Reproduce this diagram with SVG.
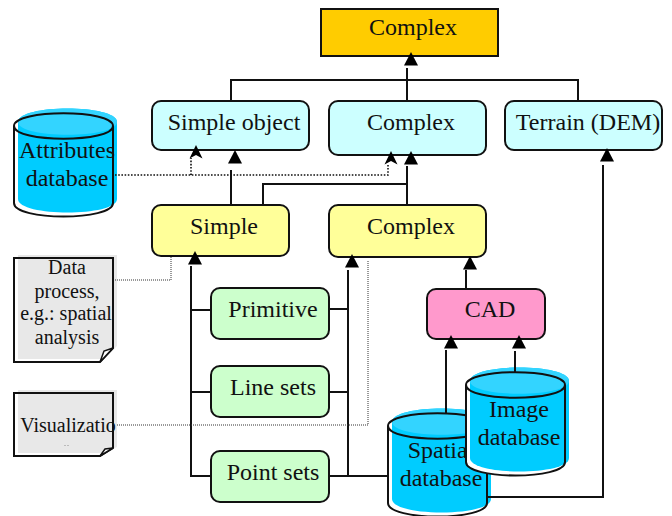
<svg xmlns="http://www.w3.org/2000/svg" width="672" height="516" viewBox="0 0 672 516">
<style>
text{font-family:"Liberation Serif","Times New Roman",serif;font-size:24px;fill:#111;text-anchor:middle}
.small{font-size:20px}
.box{stroke:#111;stroke-width:2}
.c{fill:none;stroke:#111;stroke-width:2}
.d{fill:none;stroke:#111;stroke-width:1.6;stroke-dasharray:1.6 1.6}
.t{fill:none;stroke:#333;stroke-width:1;stroke-dasharray:1 1}
.o{fill:none;stroke:#111;stroke-width:2}
.body{fill:#00ccff}
.top{fill:#33d4ff}
.sh{fill:#e8e8e8}
</style>
<defs>
<polygon id="tri" points="0,-7 7,6.5 -7,6.5" fill="#000"/>
<path id="open" d="M0,-7 L6.5,6.5 L0,3 L-6.5,6.5 Z" fill="#000"/>
<g id="cyl">
<path d="M0,13 C0,-4 99,-4 99,13 V90 C99,108 0,108 0,90 Z" fill="#fff"/>
<path class="body" d="M4,9 C4,-9 103,-9 103,9 V86 C103,104 4,104 4,86 Z"/>
<path class="top" d="M4,9 C4,-9 103,-9 103,9 C103,26 4,26 4,9 Z"/>
<path class="o" d="M0,13 C0,-4 99,-4 99,13 C99,30 0,30 0,13 V90 C0,108 99,108 99,90 V13"/>
</g>
</defs>

<g id="n-top"><rect class="box" x="321" y="9" width="177" height="47" fill="#ffcc00"/><text x="413" y="35">Complex</text></g>
<g id="n-simple-object"><rect class="box" x="152" y="101" width="157" height="49" rx="9" fill="#ccffff"/><text x="234" y="130">Simple object</text></g>
<g id="n-complex-blue"><rect class="box" x="329" y="101" width="157" height="54" rx="9" fill="#ccffff"/><text x="411" y="130">Complex</text></g>
<g id="n-terrain"><rect class="box" x="505" y="101" width="157" height="49" rx="9" fill="#ccffff"/><text x="588" y="130">Terrain (DEM)</text></g>
<g id="n-simple"><rect class="box" x="152" y="205" width="137" height="51" rx="9" fill="#ffff99"/><text x="224" y="234">Simple</text></g>
<g id="n-complex-yellow"><rect class="box" x="329" y="205" width="157" height="52" rx="9" fill="#ffff99"/><text x="411" y="234">Complex</text></g>
<g id="n-primitive"><rect class="box" x="211" y="288" width="118" height="51" rx="9" fill="#ccffcc"/><text x="273" y="317">Primitive</text></g>
<g id="n-line-sets"><rect class="box" x="211" y="366" width="118" height="51" rx="9" fill="#ccffcc"/><text x="273" y="395">Line sets</text></g>
<g id="n-point-sets"><rect class="box" x="211" y="451" width="118" height="51" rx="9" fill="#ccffcc"/><text x="273" y="480">Point sets</text></g>
<g id="n-cad"><rect class="box" x="427" y="289" width="118" height="50" rx="9" fill="#ff99cc"/><text x="490" y="317">CAD</text></g>

<g id="n-attributes"><use href="#cyl" x="14" y="113"/><text x="67" y="158">Attributes</text><text x="67" y="186">database</text></g>
<g id="n-spatial"><use href="#cyl" x="388" y="413"/><text x="441" y="458">Spatial</text><text x="441" y="486">database</text></g>
<g id="n-image"><use href="#cyl" x="466" y="372"/><text x="519" y="417">Image</text><text x="519" y="445">database</text></g>

<g id="n-data">
<path class="sh" d="M18,255H117V346L104,359H18Z"/>
<path class="o" d="M14,258H113V348L100,362H14Z"/>
<path d="M113,348L100,362L104,351Z" fill="#fff" stroke="#111" stroke-width="1.5"/>
<text class="small" x="67" y="274">Data</text>
<text class="small" x="67" y="298">process,</text>
<text class="small" x="66" y="320">e.g.: spatial</text>
<text class="small" x="67" y="344">analysis</text>
</g>
<g id="n-visualization">
<path class="sh" d="M18,390H117V447L104,453H18Z"/>
<path class="o" d="M14,393H113V448L100,456H14Z"/>
<path d="M113,448L100,456L105,449Z" fill="#fff" stroke="#111" stroke-width="1.5"/>
<text class="small" x="68" y="432">Visualizatio</text>
<path d="M64,445.5H70" stroke="#bbb" stroke-width="1" stroke-dasharray="2 1"/>
</g>

<g id="connectors">
<path class="c" d="M231,101V80H578V101M407,68V101"/>
<path class="c" d="M231,170V205M263,205V184H407M407,166V205"/>
<path class="c" d="M603,165V497H486"/>
<path class="c" d="M191,266V476H211M191,310H211M191,392H211"/>
<path class="c" d="M348,270V476M329,309H348M329,392H348M329,476H388"/>
<path class="c" d="M466,270V289"/>
<path class="c" d="M446,350V414M515,351V372"/>
<path class="d" d="M115,175H388V165M191,175V158"/>
<path class="t" d="M115,280H171V256"/>
<path class="t" d="M117,425H368V260"/>
<use href="#tri" x="411" y="59"/>
<use href="#tri" x="235" y="157"/>
<use href="#tri" x="411" y="158"/>
<use href="#tri" x="607" y="155"/>
<use href="#tri" x="195" y="258"/>
<use href="#tri" x="352" y="261"/>
<use href="#tri" x="470" y="263"/>
<use href="#tri" x="451" y="342"/>
<use href="#tri" x="519" y="342"/>
<use href="#open" x="196" y="152"/>
<use href="#open" x="391" y="158"/>
</g>
</svg>
